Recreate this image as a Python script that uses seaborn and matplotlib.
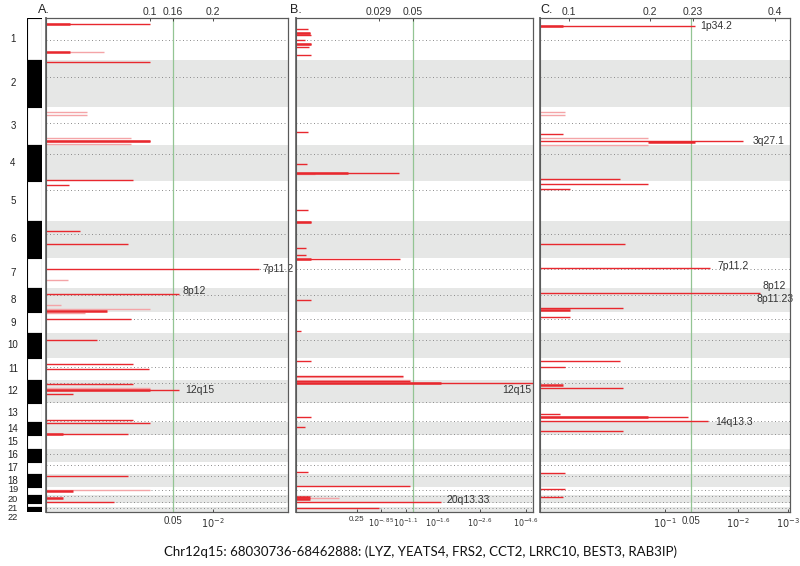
import matplotlib
matplotlib.use("Agg")
import matplotlib.pyplot as plt
import matplotlib.transforms as mtransforms
import seaborn as sns

# ---------------- data ----------------
chrom_names = [str(i) for i in range(1, 23)]
# chromosome end positions along the genome axis (genome index units, top = 0)
chrom_ends = [42, 89, 127, 163, 203, 240, 270, 294, 315, 340, 362, 385,
              404, 417, 431, 444, 456, 469, 477, 485, 489, 494]
centromeres = [22, 59, 105, 136, 172, 216, 251, 277, 301, 322, 349, 365,
               384, 403, 416, 436, 447, 458, 472, 478, 484, 490]

# Panel A  (spike position along genome, spike length in % of panel scale)
A_line_pos = [6, 44, 123, 162, 167, 213, 226, 251, 276, 301, 322, 346, 351,
              366, 372, 376, 402, 405, 416, 458, 484]
A_line_len = [43, 43, 43, 36, 9.5, 14, 34, 88, 55, 35, 21, 36, 42.5,
              36, 55, 11, 36, 43, 34, 34, 28]
A_core_pos = [6, 34, 123, 293, 372, 416, 473, 480]
A_core_len = [10, 10, 43, 25, 43, 7, 11, 7]
A_faint_pos = [34, 94, 97, 120, 126, 262, 287, 291, 295, 370, 472]
A_faint_len = [24, 17, 17, 35, 35, 9, 6, 43, 16, 43, 43]

# Panel B
B_line_pos = [11, 15, 17, 22, 26, 29, 37, 114, 146, 155, 192, 204, 230, 237,
              241, 282, 313, 343, 358, 363, 365, 399, 409, 454, 468, 484, 490]
B_line_len = [5, 6, 6.3, 3.8, 6.3, 5.5, 6.3, 5, 4.6, 43.5, 5, 6.3, 4.2, 4.2,
              44, 6.3, 2, 6.3, 45, 48, 100, 6.3, 4, 5, 48, 61, 35]
B_core_pos = [15, 26, 155, 204, 241, 365, 479, 481]
B_core_len = [6, 6.3, 22, 6.3, 6.3, 61, 6, 6]
B_faint_pos = [16, 156, 359, 362, 480]
B_faint_len = [6, 8, 45, 48, 18]

# Panel C
C_line_pos = [8, 116, 123, 161, 166, 171, 226, 250, 275, 290, 299, 343, 349,
              370, 396, 399, 403, 413, 455, 471, 479]
C_line_len = [62, 9, 81, 32, 43, 12, 34, 68, 88, 33, 12, 32, 10,
              33, 8, 59, 67, 33, 10, 10, 9]
C_core_pos = [8, 124, 292, 367, 399]
C_core_len = [9, 62, 12, 9, 43]
C_core_start = [0, 43, 0, 0, 0]
C_faint_pos = [94, 97, 120, 127]
C_faint_len = [10, 10, 43, 43]

A_top_ticks = [43, 52.5, 69]
A_top_labels = ["0.1", "0.16", "0.2"]
A_bot_ticks = [52.5, 69]
A_bot_labels = ["0.05", r"$10^{-2}$"]
A_threshold = 52.5

B_top_ticks = [35, 49.4]
B_top_labels = ["0.029", "0.05"]
B_bot_ticks = [25.7, 36, 46.4, 60, 77.6, 97]
B_bot_labels = ["0.25", r"$10^{-.85}$", r"$10^{-1.1}$", r"$10^{-1.6}$",
                r"$10^{-2.6}$", r"$10^{-4.6}$"]
B_threshold = 49.4

C_top_ticks = [11.6, 44, 61, 94]
C_top_labels = ["0.1", "0.2", "0.23", "0.4"]
C_bot_ticks = [50, 60.4, 79, 99]
C_bot_labels = [r"$10^{-1}$", "0.05", r"$10^{-2}$", r"$10^{-3}$"]
C_threshold = 60.4

A_peaks = ["7p11.2", "8p12", "12q15"]
A_peak_x = [89.5, 56.5, 57.5]
A_peak_y = [251, 273, 372]
B_peaks = ["12q15", "20q13.33"]
B_peak_x = [87, 63.5]
B_peak_y = [372, 482]
C_peaks = ["1p34.2", "3q27.1", "7p11.2", "8p12", "8p11.23", "14q13.3"]
C_peak_x = [64, 85, 70.8, 89, 86.6, 70]
C_peak_y = [8, 123, 248, 268, 281, 404]

caption = "Chr12q15: 68030736-68462888: (LYZ, YEATS4, FRS2, CCT2, LRRC10, BEST3, RAB3IP)"

# ---------------- style ----------------
sns.set_theme(style="white")
plt.rcParams['font.family'] = ['Liberation Sans', 'DejaVu Sans']
plt.rcParams['mathtext.fontset'] = 'dejavusans'

RED = "#e8282e"
PINK = "#f4a4a7"
GRAY_BAND = "#e6e7e6"
GREEN = "#93c493"
FRAME = "#5a5a5a"

W, H = 800, 566
fig = plt.figure(figsize=(W / 100, H / 100), dpi=100)


def rect(x0, x1, y0=18, y1=512):
    return [x0 / W, 1 - y1 / H, (x1 - x0) / W, (y1 - y0) / H]


chrom_starts = [0] + chrom_ends[:-1]
genome_len = chrom_ends[-1]

# ---------------- ideogram ----------------
axi = fig.add_axes(rect(27, 42))
for i, (s, e) in enumerate(zip(chrom_starts, chrom_ends)):
    axi.bar(0.5, e - s, bottom=s, width=1.0,
            color="black" if i % 2 else "white",
            edgecolor="black", linewidth=0.8)
axi.set_xlim(0, 1)
axi.set_ylim(genome_len, 0)
axi.axis("off")
trans = mtransforms.blended_transform_factory(fig.transFigure, axi.transData)
label_nudge = [0] * 18 + [-1.5, 0.5, 3.5, 7.5]
for i, name in enumerate(chrom_names):
    c = (chrom_starts[i] + chrom_ends[i]) / 2 + label_nudge[i]
    axi.text(13 / W, c, name, transform=trans, ha="center", va="center",
             fontsize=7 if i < 18 else 6.6, color="#222")

fig.text(38 / W, 1 - 10 / H, "A.", fontsize=9, ha="left", va="center", color="#222")
fig.text(290 / W, 1 - 10 / H, "B.", fontsize=9, ha="left", va="center", color="#222")
fig.text(540 / W, 1 - 10 / H, "C.", fontsize=9, ha="left", va="center", color="#222")


def panel(r, line_pos, line_len, core_pos, core_len, faint_pos, faint_len,
          top_ticks, top_labels, bot_ticks, bot_labels, thr,
          peaks, px, py, core_start=None, bot_size=7):
    ax = fig.add_axes(r)
    ax.set_xlim(0, 100)
    ax.set_ylim(genome_len, 0)
    for i, (s, e) in enumerate(zip(chrom_starts, chrom_ends)):
        if i % 2:
            ax.axhspan(s, e, color=GRAY_BAND, zorder=0, lw=0)
    ax.hlines(centromeres, 0, 100, colors="#8c8c8c",
              linestyles=(0, (1, 2.6)), linewidth=0.7, zorder=1)
    ax.axvline(thr, color=GREEN, lw=0.9, zorder=2)
    ax.hlines(faint_pos, 0, faint_len, colors=PINK, linewidth=1.0, zorder=3)
    ax.hlines(line_pos, 0, line_len, colors=RED, linewidth=1.0, zorder=4)
    starts = core_start if core_start is not None else [0] * len(core_pos)
    ax.hlines(core_pos, starts, core_len, colors=RED, linewidth=1.8, zorder=5)
    for t, x, y in zip(peaks, px, py):
        ax.text(x, y, t, fontsize=7.5, color="#333", va="center", ha="left",
                zorder=6, clip_on=False)
    ax.set_xticks(bot_ticks)
    ax.set_xticklabels(bot_labels)
    ax.set_yticks([])
    ax.tick_params(axis="x", direction="in", length=2, width=0.6,
                   labelsize=bot_size, colors="#333", pad=3, bottom=True)
    top = ax.twiny()
    top.set_xlim(0, 100)
    top.set_xticks(top_ticks)
    top.set_xticklabels(top_labels)
    top.tick_params(axis="x", direction="in", length=2, width=0.6,
                    labelsize=7.5, colors="#333", pad=1, top=True)
    for a in (ax, top):
        for sp in a.spines.values():
            sp.set_color(FRAME)
            sp.set_linewidth(0.8)
    ax.spines["left"].set_linewidth(1.4)
    ax.spines["left"].set_color("#777")
    return ax


panel(rect(46, 288), A_line_pos, A_line_len, A_core_pos, A_core_len,
      A_faint_pos, A_faint_len, A_top_ticks, A_top_labels,
      A_bot_ticks, A_bot_labels, A_threshold, A_peaks, A_peak_x, A_peak_y)
panel(rect(296, 533), B_line_pos, B_line_len, B_core_pos, B_core_len,
      B_faint_pos, B_faint_len, B_top_ticks, B_top_labels,
      B_bot_ticks, B_bot_labels, B_threshold, B_peaks, B_peak_x, B_peak_y,
      bot_size=5.8)
panel(rect(540, 790), C_line_pos, C_line_len, C_core_pos, C_core_len,
      C_faint_pos, C_faint_len, C_top_ticks, C_top_labels,
      C_bot_ticks, C_bot_labels, C_threshold, C_peaks, C_peak_x, C_peak_y,
      core_start=C_core_start)

fig.text(420 / W, 1 - 552 / H, caption, fontsize=9.5, ha="center", va="center",
         color="#111", family=["Lato", "DejaVu Sans"])

fig.savefig("out.png", dpi=100)
